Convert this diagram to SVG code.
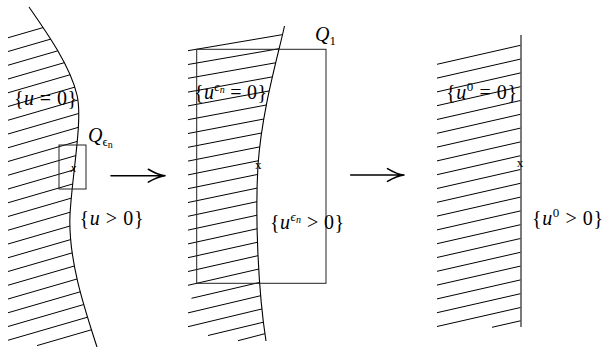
<svg xmlns="http://www.w3.org/2000/svg" width="606" height="347" viewBox="0 0 606 347">
<style>
.h{stroke:#000;stroke-width:1;fill:none}
.c{stroke:#000;stroke-width:1.1;fill:none}
.b{stroke:#222;stroke-width:1;fill:none}
.m{font-family:"Liberation Serif","DejaVu Serif",serif;font-size:20px;fill:#000}
.i{font-style:italic}
.mk{font-family:"Liberation Serif","DejaVu Serif",serif;font-size:13px;fill:#000;text-anchor:middle}
.ar{stroke:#000;stroke-width:1.6;fill:none;stroke-linecap:round}
</style>
<defs>
<clipPath id="clipL"><path d="M0,0 L29,0 L29,7 C45,30 70,65 77,95 C83,120 72,175 70,215 C68,260 85,310 97,347 L0,347 Z"/></clipPath>
<clipPath id="clipM"><path d="M150,0 L284.5,0 L284.5,26 C277,60 262,110 258,165 C255,215 258,290 266,341 L266,347 L150,347 Z"/></clipPath>
</defs>

<g id="panel-left">
<path class="h" clip-path="url(#clipL)" d="M8,37.75 L100,11.07 M8,51.5 L100,24.82 M8,65.25 L100,38.57 M8,79 L100,52.32 M8,92.75 L100,66.07 M8,106.5 L100,79.82 M8,120.25 L100,93.57 M8,134 L100,107.32 M8,147.75 L100,121.07 M8,161.5 L100,134.82 M8,175.25 L100,148.57 M8,189 L100,162.32 M8,202.75 L100,176.07 M8,216.5 L100,189.82 M8,230.25 L100,203.57 M8,244 L100,217.32 M8,257.75 L100,231.07 M8,271.5 L100,244.82 M8,285.25 L100,258.57 M8,299 L100,272.32 M8,312.75 L100,286.07 M8,326.5 L100,299.82 M8,340.25 L100,313.57 M37,345.6 L100,327.3"/>
<path class="c" d="M29,7 C45,30 70,65 77,95 C83,120 72,175 70,215 C68,260 85,310 97,347"/>
<rect class="b" x="59" y="145" width="27" height="44"/>
<text class="m" x="14" y="104.5" textLength="63" lengthAdjust="spacing">{<tspan class="i">u</tspan> = 0}</text>
<text class="m" x="88" y="141.5" font-size="18"><tspan class="i">Q</tspan><tspan font-size="13" dy="4">ϵ</tspan><tspan font-size="10" dy="2">n</tspan></text>
<text class="mk i" x="73.5" y="172">x</text>
<text class="m" x="79.5" y="224.5" textLength="64" lengthAdjust="spacing">{<tspan class="i">u</tspan> &gt; 0}</text>
</g>

<g id="panel-middle">
<path class="h" clip-path="url(#clipM)" d="M188,50.7 L300,31.66 M188,64.5 L300,45.07 M188,78.3 L300,58.48 M188,92.1 L300,71.88 M188,105.9 L300,85.29 M188,119.7 L300,98.7 M188,133.5 L300,112.11 M188,147.3 L300,125.52 M188,161.1 L300,138.92 M188,174.9 L300,152.33 M188,188.7 L300,165.74 M188,202.5 L300,179.15 M188,216.3 L300,192.56 M188,230.1 L300,205.96 M188,243.9 L300,219.37 M188,257.7 L300,232.78 M188,271.5 L300,246.19 M188,285.3 L300,259.6 M191.5,298.3 L300,273 M188,312.9 L300,286.41 M188,326.7 L300,299.82 M208,335.5 L300,313.42 M238,340.7 L300,324.58"/>
<path class="c" d="M284.5,26 C277,60 262,110 258,165 C255,215 258,290 266,341"/>
<rect class="b" x="196.7" y="49.3" width="129.3" height="234"/>
<text class="m" x="315" y="40.5" font-size="18"><tspan class="i">Q</tspan><tspan font-size="13" dy="4">1</tspan></text>
<text class="m" x="194" y="98.5" textLength="73" lengthAdjust="spacing">{<tspan class="i">u</tspan><tspan class="i" font-size="13" dy="-8">ϵ</tspan><tspan class="i" font-size="10" dy="2">n</tspan><tspan dy="6"> = 0}</tspan></text>
<text class="mk" x="258.3" y="169">x</text>
<text class="m" x="270" y="228.5" textLength="74" lengthAdjust="spacing">{<tspan class="i">u</tspan><tspan class="i" font-size="13" dy="-8">ϵ</tspan><tspan class="i" font-size="10" dy="2">n</tspan><tspan dy="6"> &gt; 0}</tspan></text>
</g>

<g id="panel-right">
<path class="h" d="M437,64.3 L520.5,45.3 M437,78.1 L520.5,59.1 M437,91.9 L520.5,72.9 M437,105.7 L520.5,86.7 M437,119.5 L520.5,100.5 M437,133.3 L520.5,114.3 M437,147.1 L520.5,128.1 M437,160.9 L520.5,141.9 M437,174.7 L520.5,155.7 M437,188.5 L520.5,169.5 M437,202.3 L520.5,183.3 M437,216.1 L520.5,197.1 M437,229.9 L520.5,210.9 M437,243.7 L520.5,224.7 M437,257.5 L520.5,238.5 M437,271.3 L520.5,252.3 M437,285.1 L520.5,266.1 M437,298.9 L520.5,279.9 M437,312.7 L520.5,293.7 M437,326.5 L520.5,307.5 M492,327.3 L520.5,320.8"/>
<line x1="521" y1="35" x2="521" y2="327" stroke="#333" stroke-width="1.3"/>
<text class="m" x="446" y="99" textLength="71" lengthAdjust="spacing">{<tspan class="i">u</tspan><tspan font-size="13" dy="-8">0</tspan><tspan dy="8"> = 0}</tspan></text>
<text class="mk" x="520" y="166.5">x</text>
<text class="m" x="532" y="224.5" textLength="71" lengthAdjust="spacing">{<tspan class="i">u</tspan><tspan font-size="13" dy="-8">0</tspan><tspan dy="8"> &gt; 0}</tspan></text>
</g>

<g id="connectors">
<path class="ar" d="M111,175.7 L165,175.7 M148.3,169.3 Q158,175 165,175.7 M148.3,182.1 Q158,176.4 165,175.7"/>
<path class="ar" d="M350.7,175 L404,175 M387.5,168.6 Q397,174.3 404,175 M387.5,181.4 Q397,175.7 404,175"/>
</g>
</svg>
